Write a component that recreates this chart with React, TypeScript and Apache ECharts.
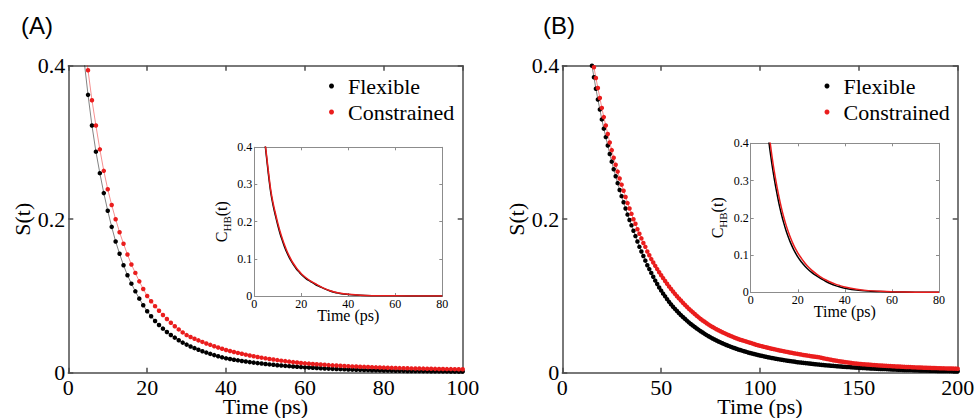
import React, { useEffect, useRef } from "react";
import * as echarts from "echarts";

// ---------------- Data ----------------
// Panel A, main plot: S(t), one point per ps
const A_FLEX_START = 4;
const A_FLEX = [
  0.407, 0.362, 0.322, 0.288, 0.26, 0.234, 0.211, 0.19, 0.171, 0.155,
  0.14, 0.127, 0.116, 0.106, 0.0965, 0.0878, 0.08, 0.0735, 0.0674, 0.0622,
  0.0574, 0.053, 0.0491, 0.0457, 0.0422, 0.0392, 0.0366, 0.0342, 0.032, 0.0299,
  0.028, 0.0262, 0.0245, 0.0229, 0.0214, 0.02, 0.0187, 0.0178, 0.0169, 0.0161,
  0.0153, 0.0145, 0.0138, 0.0131, 0.0125, 0.0119, 0.0113, 0.0108, 0.0103, 0.0098,
  0.0093, 0.0089, 0.0085, 0.0081, 0.0077, 0.0073, 0.007, 0.0067, 0.0064, 0.0061,
  0.0058, 0.0055, 0.0053, 0.005, 0.0048, 0.0046, 0.0044, 0.0042, 0.004, 0.0038,
  0.0037, 0.0035, 0.0034, 0.0032, 0.0031, 0.003, 0.0029, 0.0028, 0.0027, 0.0026,
  0.0025, 0.0024, 0.0023, 0.0022, 0.0022, 0.0021, 0.002, 0.002, 0.0019, 0.0018,
  0.0018, 0.0017, 0.0017, 0.0016, 0.0016, 0.0015, 0.0015,
];
const A_CONS_START = 4;
const A_CONS = [
  0.44, 0.394, 0.355, 0.322, 0.291, 0.263, 0.239, 0.2185, 0.2, 0.183,
  0.168, 0.154, 0.141, 0.13, 0.119, 0.109, 0.1, 0.0931, 0.0867, 0.0807,
  0.0751, 0.0699, 0.0651, 0.0606, 0.0564, 0.0525, 0.049, 0.0466, 0.0443, 0.0421,
  0.0401, 0.0381, 0.0363, 0.0345, 0.0328, 0.0312, 0.0296, 0.0283, 0.027, 0.0258,
  0.0246, 0.0235, 0.0224, 0.0214, 0.0205, 0.0196, 0.0187, 0.0179, 0.0172, 0.0164,
  0.0157, 0.0151, 0.0144, 0.0138, 0.0132, 0.0127, 0.0122, 0.0118, 0.0114, 0.011,
  0.0106, 0.0103, 0.0099, 0.0096, 0.0093, 0.009, 0.0087, 0.0085, 0.0082, 0.008,
  0.0078, 0.0076, 0.0074, 0.0072, 0.007, 0.0068, 0.0066, 0.0065, 0.0063, 0.0062,
  0.006, 0.0059, 0.0058, 0.0056, 0.0055, 0.0054, 0.0053, 0.0052, 0.0051, 0.005,
  0.0049, 0.0048, 0.0047, 0.0047, 0.0046, 0.0045, 0.0044,
];

// Panel B, main plot: S(t), one point per ps
const B_FLEX_START = 14;
const B_FLEX = [
  0.42, 0.4, 0.385, 0.37, 0.356, 0.343, 0.33, 0.318, 0.307, 0.296,
  0.285, 0.275, 0.265, 0.256, 0.247, 0.238, 0.23, 0.222, 0.214, 0.206,
  0.199, 0.192, 0.185, 0.178, 0.171, 0.164, 0.158, 0.152, 0.146, 0.14,
  0.135, 0.13, 0.125, 0.12, 0.1155, 0.111, 0.107, 0.103, 0.0995, 0.0958,
  0.0923, 0.089, 0.086, 0.0831, 0.0803, 0.0776, 0.075, 0.0725, 0.0702, 0.0679,
  0.0656, 0.0635, 0.0615, 0.0595, 0.0576, 0.0558, 0.054, 0.0523, 0.0506, 0.049,
  0.0475, 0.046, 0.0446, 0.0433, 0.042, 0.0407, 0.0395, 0.0383, 0.0372, 0.0361,
  0.035, 0.034, 0.033, 0.0321, 0.0312, 0.0303, 0.0295, 0.0287, 0.0279, 0.0272,
  0.0264, 0.0257, 0.025, 0.0244, 0.0237, 0.0231, 0.0225, 0.0219, 0.0213, 0.0208,
  0.0202, 0.0197, 0.0192, 0.0187, 0.0182, 0.0177, 0.0173, 0.0169, 0.0164, 0.016,
  0.0156, 0.0152, 0.0148, 0.0145, 0.0141, 0.0137, 0.0134, 0.0131, 0.0128, 0.0125,
  0.0122, 0.0119, 0.0116, 0.0113, 0.011, 0.0108, 0.0105, 0.0102, 0.01, 0.0098,
  0.0095, 0.0093, 0.0091, 0.0089, 0.0086, 0.0084, 0.0082, 0.008, 0.0078, 0.0076,
  0.0074, 0.0073, 0.0071, 0.0069, 0.0067, 0.0066, 0.0064, 0.0063, 0.0061, 0.006,
  0.0058, 0.0057, 0.0055, 0.0054, 0.0053, 0.0051, 0.005, 0.0049, 0.0048, 0.0047,
  0.0046, 0.0044, 0.0043, 0.0042, 0.0041, 0.004, 0.0039, 0.0038, 0.0037, 0.0036,
  0.0035, 0.0034, 0.0034, 0.0033, 0.0032, 0.0031, 0.003, 0.0029, 0.0029, 0.0028,
  0.0027, 0.0027, 0.0026, 0.0025, 0.0025, 0.0024, 0.0023, 0.0023, 0.0022, 0.0022,
  0.0021, 0.0021, 0.002, 0.002, 0.0019, 0.0019, 0.0018,
];
const B_CONS_START = 15;
const B_CONS = [
  0.415, 0.398, 0.384, 0.371, 0.358, 0.345, 0.333, 0.322, 0.311, 0.3,
  0.29, 0.28, 0.271, 0.262, 0.253, 0.245, 0.237, 0.229, 0.221, 0.214,
  0.207, 0.2, 0.194, 0.187, 0.181, 0.175, 0.169, 0.164, 0.158, 0.153,
  0.148, 0.1435, 0.1392, 0.135, 0.1309, 0.127, 0.1232, 0.1195, 0.1159, 0.1124,
  0.109, 0.1058, 0.1027, 0.0997, 0.0968, 0.094, 0.0912, 0.0885, 0.0859, 0.0834,
  0.081, 0.0787, 0.0764, 0.0742, 0.0721, 0.07, 0.0681, 0.0663, 0.0645, 0.0627,
  0.061, 0.0595, 0.0581, 0.0567, 0.0553, 0.054, 0.0527, 0.0515, 0.0503, 0.0491,
  0.048, 0.047, 0.0459, 0.0449, 0.044, 0.043, 0.0422, 0.0414, 0.0406, 0.0398,
  0.039, 0.0382, 0.0373, 0.0365, 0.0358, 0.035, 0.0344, 0.0337, 0.0331, 0.0325,
  0.0319, 0.0313, 0.0307, 0.0301, 0.0296, 0.029, 0.0285, 0.0279, 0.0274, 0.0269,
  0.0264, 0.0259, 0.0254, 0.0249, 0.0245, 0.024, 0.0236, 0.0231, 0.0227, 0.0223,
  0.0219, 0.0215, 0.0211, 0.0207, 0.0204, 0.02, 0.0194, 0.0189, 0.0183, 0.0178,
  0.0173, 0.0168, 0.0163, 0.0159, 0.0154, 0.015, 0.0146, 0.0142, 0.0138, 0.0135,
  0.0131, 0.0128, 0.0124, 0.0121, 0.0118, 0.0115, 0.0113, 0.0111, 0.0109, 0.0107,
  0.0105, 0.0103, 0.0101, 0.0099, 0.0097, 0.0095, 0.0093, 0.0092, 0.009, 0.0089,
  0.0087, 0.0086, 0.0084, 0.0083, 0.0081, 0.008, 0.0079, 0.0078, 0.0076, 0.0075,
  0.0074, 0.0073, 0.0071, 0.007, 0.0069, 0.0068, 0.0067, 0.0066, 0.0065, 0.0064,
  0.0063, 0.0063, 0.0062, 0.0061, 0.006, 0.0059, 0.0058, 0.0057, 0.0057, 0.0056,
  0.0055, 0.0055, 0.0054, 0.0053, 0.0053, 0.0052,
];

// Insets: C_HB(t)
const INSET_A_TIME = [4, 5, 6, 7, 8, 9, 10, 11, 12, 13, 14, 15, 16, 17, 18, 19, 20, 22, 24, 26, 28, 30, 32, 34, 36, 38, 40, 45, 50, 60, 70, 80];
const INSET_A_FLEX = [0.44, 0.385, 0.328, 0.279, 0.244, 0.216, 0.19, 0.167, 0.148, 0.13, 0.115, 0.102, 0.091, 0.081, 0.072, 0.065, 0.058, 0.047, 0.039, 0.031, 0.025, 0.019, 0.014, 0.01, 0.0075, 0.0055, 0.004, 0.0018, 0.001, 0.0005, 0.0002, 0];
const INSET_A_CONS = [0.44, 0.39, 0.335, 0.285, 0.25, 0.222, 0.196, 0.173, 0.153, 0.135, 0.119, 0.106, 0.094, 0.084, 0.075, 0.067, 0.06, 0.049, 0.04, 0.033, 0.026, 0.02, 0.015, 0.011, 0.008, 0.006, 0.0045, 0.002, 0.001, 0.0005, 0.0002, 0];

const INSET_B_TIME = [7, 8, 9, 10, 11, 12, 13, 14, 15, 16, 17, 18, 19, 20, 21, 22, 24, 26, 28, 30, 32, 34, 36, 38, 40, 45, 50, 55, 60, 70, 80];
const INSET_B_FLEX = [0.44, 0.39, 0.345, 0.305, 0.27, 0.238, 0.211, 0.187, 0.166, 0.148, 0.132, 0.118, 0.106, 0.095, 0.086, 0.078, 0.064, 0.053, 0.044, 0.036, 0.029, 0.023, 0.018, 0.014, 0.011, 0.006, 0.0035, 0.002, 0.001, 0.0003, 0];
const INSET_B_CONS = [0.47, 0.415, 0.367, 0.325, 0.289, 0.257, 0.228, 0.203, 0.181, 0.162, 0.145, 0.13, 0.117, 0.106, 0.096, 0.087, 0.071, 0.059, 0.049, 0.04, 0.033, 0.027, 0.022, 0.018, 0.014, 0.008, 0.0045, 0.0025, 0.0013, 0.0004, 0];

const SERIES_NAMES = ["Flexible", "Constrained"];
const PANEL_TITLES = ["(A)", "(B)"];
const MAIN_X_MAX = [100, 200];
const MAIN_X_INTERVAL = [20, 50];

// ---------------- Styling ----------------
const SERIF = "Liberation Serif";
const SANS = "Liberation Sans";
const BLACK = "#000000";
const RED = "#ea1d1d";
const MAIN_AXIS = "#4d4d4d";
const INSET_AXIS = "#8c8c8c";

const seq = (start: number, vals: number[]) => vals.map((v, i) => [start + i, v]);
const zip = (t: number[], v: number[]) => t.map((x, i) => [x, v[i]]);

const txt = (size: number) => ({
  fontFamily: SERIF,
  fontSize: size,
  fontWeight: "normal",
  color: "#000",
  textBorderWidth: 0,
  textShadowBlur: 0,
});

function xAxes(grid: number, max: number, interval: number, main: boolean) {
  const ls = { color: main ? MAIN_AXIS : INSET_AXIS, width: main ? 1.5 : 1 };
  const base: any = {
    type: "value",
    gridIndex: grid,
    min: 0,
    max,
    interval,
    splitLine: { show: false },
    axisLine: { show: true, onZero: false, lineStyle: ls },
    axisTick: { show: true, inside: true, length: main ? 5 : 3, lineStyle: ls },
  };
  return [
    {
      ...base,
      position: "bottom",
      name: "Time (ps)",
      nameLocation: "middle",
      nameMoveOverlap: false,
      nameGap: main ? 23 : 11,
      nameTextStyle: txt(main ? 22 : 16),
      axisLabel: { ...txt(main ? 22 : 12), margin: main ? 4 : 2 },
    },
    { ...base, position: "top", axisLabel: { show: false } },
  ];
}

function yAxes(grid: number, interval: number, main: boolean) {
  const ls = { color: main ? MAIN_AXIS : INSET_AXIS, width: main ? 1.5 : 1 };
  const base: any = {
    type: "value",
    gridIndex: grid,
    min: 0,
    max: 0.4,
    interval,
    splitLine: { show: false },
    axisLine: { show: true, onZero: false, lineStyle: ls },
    axisTick: { show: true, inside: true, length: main ? 5 : 3, lineStyle: ls },
  };
  const left: any = {
    ...base,
    position: "left",
    nameLocation: "middle",
    nameRotate: 90,
    nameMoveOverlap: false,
    axisLabel: { ...txt(main ? 22 : 12), margin: main ? 3 : 2 },
  };
  if (main) {
    left.name = "S(t)";
    left.nameGap = 35;
    left.nameTextStyle = txt(22);
  } else {
    left.name = "{a|C}{b|HB}{a|(t)}";
    left.nameGap = 22;
    left.nameTextStyle = {
      rich: {
        a: { ...txt(16), lineHeight: 22, verticalAlign: "middle" },
        b: { ...txt(11), lineHeight: 22, verticalAlign: "bottom" },
      },
    };
  }
  return [left, { ...base, position: "right", axisLabel: { show: false } }];
}

function mainSeries(name: string, color: string, data: number[][], xi: number, yi: number) {
  return {
    type: "line",
    name,
    xAxisIndex: xi,
    yAxisIndex: yi,
    data,
    clip: true,
    symbol: "circle",
    symbolSize: 4.5,
    showSymbol: true,
    itemStyle: { color },
    lineStyle: { color, width: 0.7, opacity: 0.7 },
    z: 3,
  };
}

function insetSeries(name: string, color: string, data: number[][], xi: number, yi: number) {
  return {
    type: "line",
    name,
    xAxisIndex: xi,
    yAxisIndex: yi,
    data,
    clip: true,
    symbol: "none",
    smooth: 0.3,
    itemStyle: { color },
    lineStyle: { color, width: 1.5 },
    z: 4,
  };
}

function legendAt(left: number) {
  return {
    data: SERIES_NAMES,
    orient: "vertical",
    left,
    top: 75,
    padding: 0,
    itemGap: 4,
    icon: "circle",
    itemWidth: 5,
    itemHeight: 5,
    selectedMode: false,
    textStyle: { ...txt(22), padding: [0, 0, 0, 9] },
  };
}

const gridBase = { containLabel: false, outerBoundsMode: "none" };

export default function App() {
  const ref = useRef<HTMLDivElement>(null);
  useEffect(() => {
    if (!ref.current) return;
    const chart = echarts.init(ref.current, undefined, { renderer: "svg" });
    const option: any = {
      animation: false,
      backgroundColor: "#fff",
      textStyle: { fontFamily: SERIF },
      title: [
        { text: PANEL_TITLES[0], left: 21, top: 13, padding: 0, textStyle: { fontFamily: SANS, fontSize: 24, fontWeight: "normal", color: "#000" } },
        { text: PANEL_TITLES[1], left: 543, top: 13, padding: 0, textStyle: { fontFamily: SANS, fontSize: 24, fontWeight: "normal", color: "#000" } },
      ],
      legend: [legendAt(329), legendAt(824.5)],
      grid: [
        { ...gridBase, left: 68.3, top: 65.7, width: 394.4, height: 307 },
        { ...gridBase, left: 254.3, top: 147.3, width: 188, height: 148.7, show: true, backgroundColor: "#fff", borderWidth: 0 },
        { ...gridBase, left: 562.3, top: 65.7, width: 395.4, height: 307 },
        { ...gridBase, left: 750.7, top: 143.3, width: 188.3, height: 149, show: true, backgroundColor: "#fff", borderWidth: 0 },
      ],
      xAxis: [
        ...xAxes(0, MAIN_X_MAX[0], MAIN_X_INTERVAL[0], true), // 0,1
        ...xAxes(1, 80, 20, false), // 2,3
        ...xAxes(2, MAIN_X_MAX[1], MAIN_X_INTERVAL[1], true), // 4,5
        ...xAxes(3, 80, 20, false), // 6,7
      ],
      yAxis: [
        ...yAxes(0, 0.2, true), // 0,1
        ...yAxes(1, 0.1, false), // 2,3
        ...yAxes(2, 0.2, true), // 4,5
        ...yAxes(3, 0.1, false), // 6,7
      ],
      series: [
        mainSeries(SERIES_NAMES[0], BLACK, seq(A_FLEX_START, A_FLEX), 0, 0),
        mainSeries(SERIES_NAMES[1], RED, seq(A_CONS_START, A_CONS), 0, 0),
        insetSeries(SERIES_NAMES[0], BLACK, zip(INSET_A_TIME, INSET_A_FLEX), 2, 2),
        insetSeries(SERIES_NAMES[1], RED, zip(INSET_A_TIME, INSET_A_CONS), 2, 2),
        mainSeries(SERIES_NAMES[0], BLACK, seq(B_FLEX_START, B_FLEX), 4, 4),
        mainSeries(SERIES_NAMES[1], RED, seq(B_CONS_START, B_CONS), 4, 4),
        insetSeries(SERIES_NAMES[0], BLACK, zip(INSET_B_TIME, INSET_B_FLEX), 6, 6),
        insetSeries(SERIES_NAMES[1], RED, zip(INSET_B_TIME, INSET_B_CONS), 6, 6),
      ],
    };
    chart.setOption(option);
    return () => chart.dispose();
  }, []);
  return (
    <div
      ref={ref}
      style={{ position: "fixed", left: 0, top: 0, width: 976, height: 418, background: "#fff" }}
    />
  );
}
